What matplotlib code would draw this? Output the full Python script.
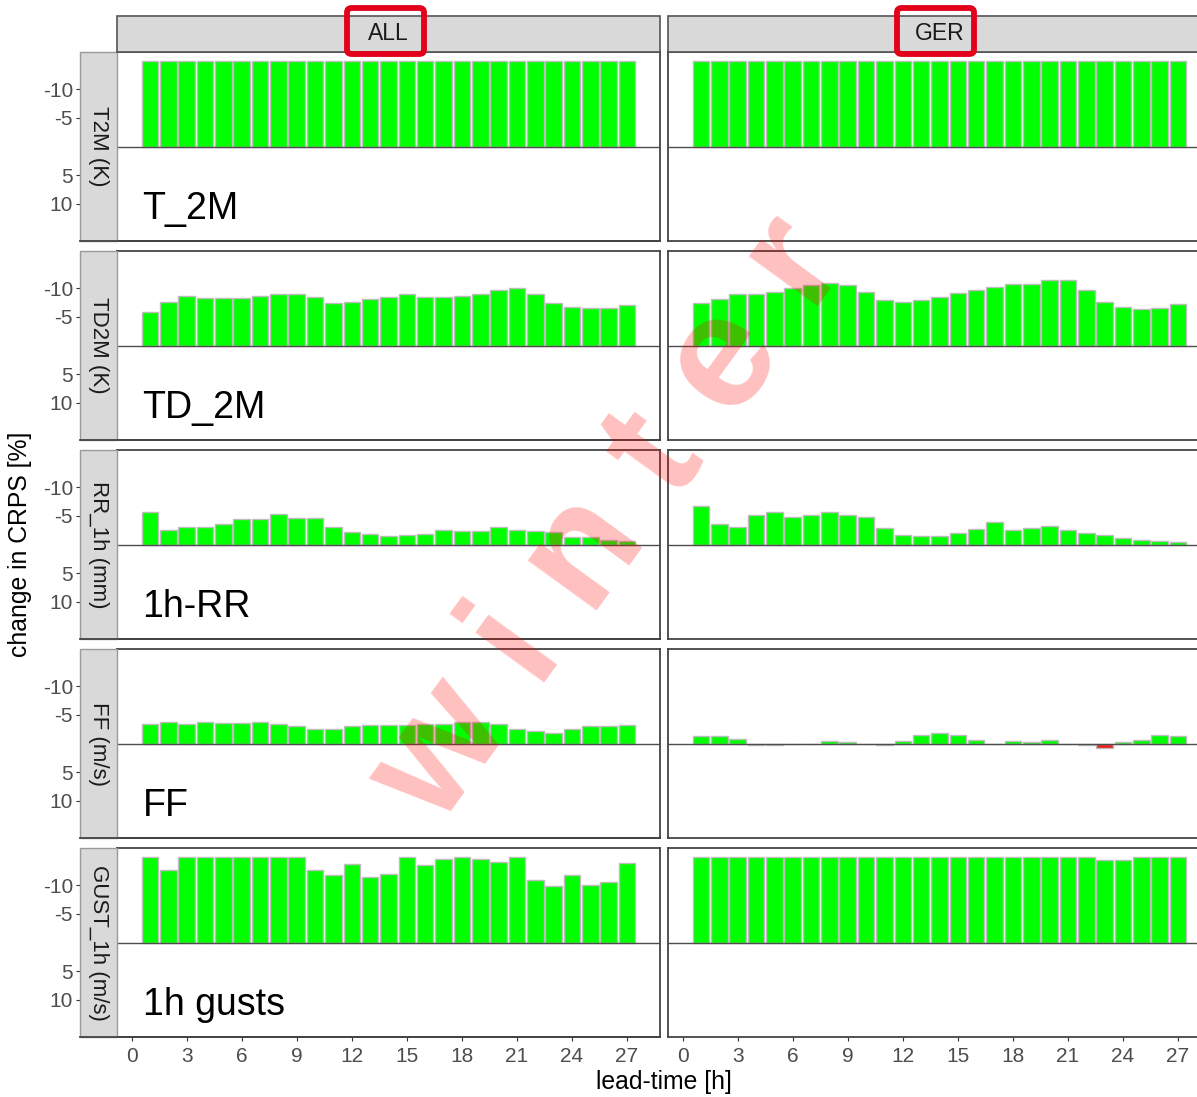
import matplotlib.pyplot as plt
from matplotlib.patches import Rectangle, FancyBboxPatch
from matplotlib.lines import Line2D

plt.rcParams['font.family'] = ['Liberation Sans', 'DejaVu Sans']
plt.rcParams['axes.unicode_minus'] = False

# lead times (h) and change in CRPS [%] per variable / region
lead_time = [1, 2, 3, 4, 5, 6, 7, 8, 9, 10, 11, 12, 13, 14, 15, 16, 17, 18, 19, 20, 21, 22, 23, 24, 25, 26, 27]

t2m_all = [-15, -15, -15, -15, -15, -15, -15, -15, -15, -15, -15, -15, -15, -15,
           -15, -15, -15, -15, -15, -15, -15, -15, -15, -15, -15, -15, -15]
t2m_ger = [-15, -15, -15, -15, -15, -15, -15, -15, -15, -15, -15, -15, -15, -15,
           -15, -15, -15, -15, -15, -15, -15, -15, -15, -15, -15, -15, -15]
td2m_all = [-5.9, -7.6, -8.7, -8.3, -8.3, -8.3, -8.7, -9.0, -9.0, -8.4, -7.4, -7.6, -8.1, -8.5,
            -9.0, -8.4, -8.4, -8.7, -9.0, -9.7, -10.1, -9.0, -7.4, -6.7, -6.5, -6.5, -7.0]
td2m_ger = [-7.5, -8.1, -9.0, -9.0, -9.4, -10.1, -10.6, -10.9, -10.6, -9.3, -7.9, -7.6, -7.9, -8.5,
            -9.2, -9.7, -10.3, -10.8, -10.8, -11.4, -11.4, -9.7, -7.6, -6.7, -6.3, -6.5, -7.2]
rr_all = [-5.7, -2.6, -3.1, -3.1, -3.5, -4.4, -4.4, -5.3, -4.6, -4.6, -3.0, -2.1, -1.9, -1.4,
          -1.7, -1.9, -2.6, -2.4, -2.4, -3.0, -2.6, -2.4, -2.1, -1.3, -1.3, -0.8, -0.6]
rr_ger = [-6.8, -3.5, -3.0, -5.1, -5.6, -4.8, -5.1, -5.6, -5.1, -4.8, -2.8, -1.7, -1.4, -1.4,
          -2.0, -2.7, -3.9, -2.6, -2.8, -3.3, -2.6, -2.0, -1.7, -1.1, -0.8, -0.6, -0.5]
ff_all = [-3.4, -3.7, -3.4, -3.7, -3.6, -3.6, -3.7, -3.4, -3.0, -2.5, -2.5, -3.0, -3.3, -3.3,
          -3.3, -3.4, -3.4, -3.7, -3.7, -3.4, -2.5, -2.1, -1.8, -2.5, -3.0, -3.0, -3.3]
ff_ger = [-1.3, -1.3, -0.7, 0.2, 0.2, 0.0, 0.0, -0.4, -0.2, 0.0, 0.3, -0.4, -1.5, -1.8,
          -1.5, -0.6, 0.0, -0.4, -0.2, -0.6, 0.0, 0.3, 0.7, -0.2, -0.6, -1.5, -1.3]
gust_all = [-15, -12.7, -15, -15, -15, -15, -15, -15, -15, -12.6, -11.7, -13.7, -11.4, -12.0,
            -15, -13.6, -14.5, -15, -14.5, -14.1, -15, -11.0, -9.9, -11.8, -10.1, -10.6, -13.9]
gust_ger = [-15, -15, -15, -15, -15, -15, -15, -15, -15, -15, -15, -15, -15, -15,
            -15, -15, -15, -15, -15, -15, -15, -15, -14.4, -14.4, -15, -15, -15]

regions = ['ALL', 'GER']
strip_labels = ['T2M (K)', 'TD2M (K)', 'RR_1h (mm)', 'FF (m/s)', 'GUST_1h (m/s)']
var_labels = ['T_2M', 'TD_2M', '1h-RR', 'FF', '1h gusts']
panel_values = [(t2m_all, t2m_ger), (td2m_all, td2m_ger), (rr_all, rr_ger),
                (ff_all, ff_ger), (gust_all, gust_ger)]

GOOD = '#00ff00'
BAD = '#ee1c1c'
STRIP_FILL = '#d9d9d9'

W, H = 1197, 1097
fig = plt.figure(figsize=(W / 100, H / 100), dpi=100)

# panel geometry in pixels
PANEL_W, PANEL_H = 543, 189
COL_LEFT = [117, 668]
ROW_TOP = [52, 251, 450, 649, 848]
STRIP_TOP_Y, STRIP_LEFT_X = 16, 80


def fig_rect(x0, y0, w, h):
    """pixel box (top-left origin) -> figure fraction [l, b, w, h]"""
    return [x0 / W, 1 - (y0 + h) / H, w / W, h / H]


for r, (vals_pair, slab, vlab) in enumerate(zip(panel_values, strip_labels, var_labels)):
    top = ROW_TOP[r]
    for c, vals in enumerate(vals_pair):
        left = COL_LEFT[c]
        ax = fig.add_axes(fig_rect(left, top, PANEL_W, PANEL_H))
        colors = [GOOD if v <= 0 else BAD for v in vals]
        ax.bar(lead_time, vals, width=0.9, color=colors,
               edgecolor='#bdbdbd', linewidth=1.0, zorder=2)
        ax.axhline(0, color='#4d4d4d', linewidth=1.0, zorder=3)
        ax.set_xlim(-0.795, 28.795)
        ax.set_ylim(16.5, -16.5)
        ax.set_yticks([])
        for sp in ax.spines.values():
            sp.set_color('#444444')
            sp.set_linewidth(1.3)

        if r == len(ROW_TOP) - 1:
            ax.set_xticks(range(0, 28, 3))
            ax.tick_params(axis='x', length=3, color='#333333', labelcolor='#4d4d4d',
                           labelsize=15, pad=4)
        else:
            ax.set_xticks([])

        if c == 0:
            ax.text(0.6, 12.7, vlab, fontsize=27, color='black', ha='left', va='baseline')
            # y axis sits left of the row strip
            sec = ax.secondary_yaxis(-(left - STRIP_LEFT_X) / PANEL_W)
            sec.set_yticks([-10, -5, 5, 10])
            sec.spines['left'].set_visible(False)
            sec.tick_params(length=3, color='#333333', labelcolor='#4d4d4d',
                            labelsize=15, pad=2)

    # row strip on the left
    fig.patches.append(Rectangle((STRIP_LEFT_X / W, 1 - (top + PANEL_H) / H),
                                 (COL_LEFT[0] - STRIP_LEFT_X) / W, PANEL_H / H,
                                 transform=fig.transFigure, facecolor=STRIP_FILL,
                                 edgecolor='#9a9a9a', linewidth=1.0, zorder=0))
    fig.text((STRIP_LEFT_X + COL_LEFT[0]) / 2 / W, 1 - (top + PANEL_H / 2) / H, slab,
             rotation=270, ha='center', va='center', fontsize=16, color='#1a1a1a')
    fig.add_artist(Line2D([STRIP_LEFT_X / W, (COL_LEFT[0] + PANEL_W) / W],
                          [1 - (top + PANEL_H) / H] * 2, color='#444444', linewidth=1.3))

# column strips on top
for c, reg in enumerate(regions):
    left = COL_LEFT[c]
    fig.patches.append(Rectangle((left / W, 1 - (STRIP_TOP_Y + 36) / H), PANEL_W / W, 36 / H,
                                 transform=fig.transFigure, facecolor=STRIP_FILL,
                                 edgecolor='#555555', linewidth=1.2, zorder=0))
    fig.text((left + PANEL_W / 2) / W, 1 - (STRIP_TOP_Y + 18) / H, reg,
             ha='center', va='center', fontsize=16.5, color='#1a1a1a')

# highlight boxes around the region names
for x0 in (347, 897):
    fig.patches.append(FancyBboxPatch((x0 / W, 1 - 54 / H), 77 / W, 46 / H,
                                      boxstyle='round,pad=0,rounding_size=0.004',
                                      transform=fig.transFigure, facecolor='none',
                                      edgecolor='#e2001a', linewidth=4.2, zorder=5))

fig.text(20 / W, 1 - 544.5 / H, 'change in CRPS [%]', rotation=90,
         ha='center', va='center', fontsize=17.8, color='black')
fig.text(664 / W, 1 - 1082 / H, 'lead-time [h]', ha='center', va='center',
         fontsize=17.8, color='black')

# season watermark
fig.text(610 / W, 1 - 522 / H, 'w i n t e r', rotation=54, ha='center', va='center',
         fontsize=116, fontweight='bold', color='red', alpha=0.25, zorder=10)

fig.savefig('out.png', dpi=100)
